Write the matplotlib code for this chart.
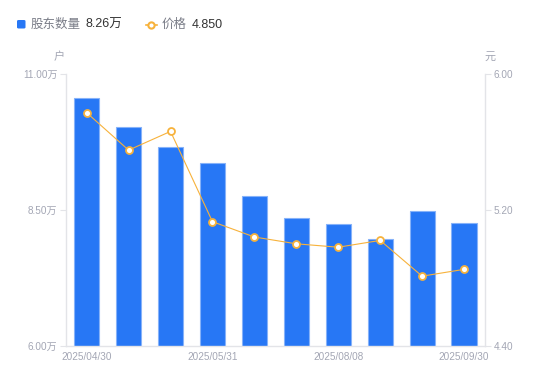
import matplotlib
matplotlib.use("Agg")
import matplotlib.pyplot as plt
import numpy as np

# Data
dates = ["2025/04/30", "2025/05/10", "2025/05/20", "2025/05/31", "2025/06/30",
         "2025/07/20", "2025/08/08", "2025/08/31", "2025/09/10", "2025/09/30"]
holders_wan = [10.55, 10.01, 9.66, 9.36, 8.75, 8.34, 8.23, 7.96, 8.48, 8.26]
prices = [5.77, 5.55, 5.66, 5.13, 5.04, 5.00, 4.98, 5.02, 4.81, 4.85]
left_ticks = [6.0, 8.5, 11.0]
right_ticks = [4.40, 5.20, 6.00]
shown_label_idx = [0, 3, 6, 9]

FONT = ["Liberation Sans", "Noto Sans CJK SC", "DejaVu Sans"]
plt.rcParams["font.family"] = FONT

BLUE = "#2777f5"
BLUE_EDGE = "#86b2f9"
ORANGE = "#f7b23b"
AX_COL = "#e3e4e8"
TICK_TXT = "#a3a6b4"

fig = plt.figure(figsize=(5.5, 3.81), dpi=100)
W, H = 550, 381
x0, x1, ytop, ybot = 65.7, 485.0, 73.5, 346.0
ax = fig.add_axes([x0 / W, (H - ybot) / H, (x1 - x0) / W, (ybot - ytop) / H])
ax2 = ax.twinx()

x = np.arange(len(dates))
ax.bar(x, holders_wan, width=0.6, color=BLUE, edgecolor=BLUE_EDGE, linewidth=0.8, zorder=2)
ax.set_xlim(-0.5, len(dates) - 0.5)
ax.set_ylim(6.0, 11.0)
ax.set_yticks(left_ticks)
ax.set_yticklabels([f"{v:.2f}万" for v in left_ticks])
ax.set_xticks([x[i] for i in shown_label_idx])
ax.set_xticklabels([dates[i] for i in shown_label_idx])

ax2.plot(x, prices, color=ORANGE, linewidth=0.8, marker="o", markersize=5,
         markerfacecolor="white", markeredgecolor=ORANGE, markeredgewidth=1.3, zorder=3)
ax2.set_ylim(4.40, 6.00)
ax2.set_yticks(right_ticks)
ax2.set_yticklabels([f"{v:.2f}" for v in right_ticks])

for a in (ax, ax2):
    for s in a.spines.values():
        s.set_visible(False)
ax.spines["left"].set_visible(True)
ax.spines["bottom"].set_visible(True)
ax2.spines["right"].set_visible(True)
for s in (ax.spines["left"], ax.spines["bottom"], ax2.spines["right"]):
    s.set_color(AX_COL)
    s.set_linewidth(1.0)

ax.tick_params(axis="y", length=4, width=0.8, color=AX_COL, labelcolor=TICK_TXT, labelsize=7.2, pad=2)
ax2.tick_params(axis="y", length=4, width=0.8, color=AX_COL, labelcolor=TICK_TXT, labelsize=7.2, pad=2)
ax.tick_params(axis="x", length=0, labelcolor=TICK_TXT, labelsize=7.2, pad=4)

# Unit labels
fig.text(59 / W, 1 - 57 / H, "户", ha="center", va="center", fontsize=8, color=TICK_TXT)
fig.text(490 / W, 1 - 57 / H, "元", ha="center", va="center", fontsize=8, color=TICK_TXT)

# Legend (custom, top)
from matplotlib.patches import FancyBboxPatch
from matplotlib.lines import Line2D
ly = 1 - 24.5 / H
fig.patches.append(FancyBboxPatch((17 / W, 1 - 28.5 / H), 8.5 / W, 8.5 / H, boxstyle="round,pad=0,rounding_size=0.003",
                                  transform=fig.transFigure, facecolor=BLUE, edgecolor="none"))
fig.lines.append(Line2D([146 / W, 156.5 / W], [ly, ly], transform=fig.transFigure, color=ORANGE, linewidth=1.2))
fig.lines.append(Line2D([151 / W], [ly], transform=fig.transFigure, marker="o", markersize=4.5,
                        markerfacecolor="white", markeredgecolor=ORANGE, markeredgewidth=1.5, color=ORANGE))
fig.text(31 / W, ly, "股东数量", ha="left", va="center", fontsize=9, color="#7a7d88")
fig.text(85 / W, ly, f"{holders_wan[-1]:.2f}万", ha="left", va="center", fontsize=9, color="#333333")
fig.text(162 / W, ly, "价格", ha="left", va="center", fontsize=9, color="#7a7d88")
fig.text(192 / W, ly, f"{prices[-1]:.3f}", ha="left", va="center", fontsize=9, color="#333333")

fig.savefig("out.png", dpi=100)
